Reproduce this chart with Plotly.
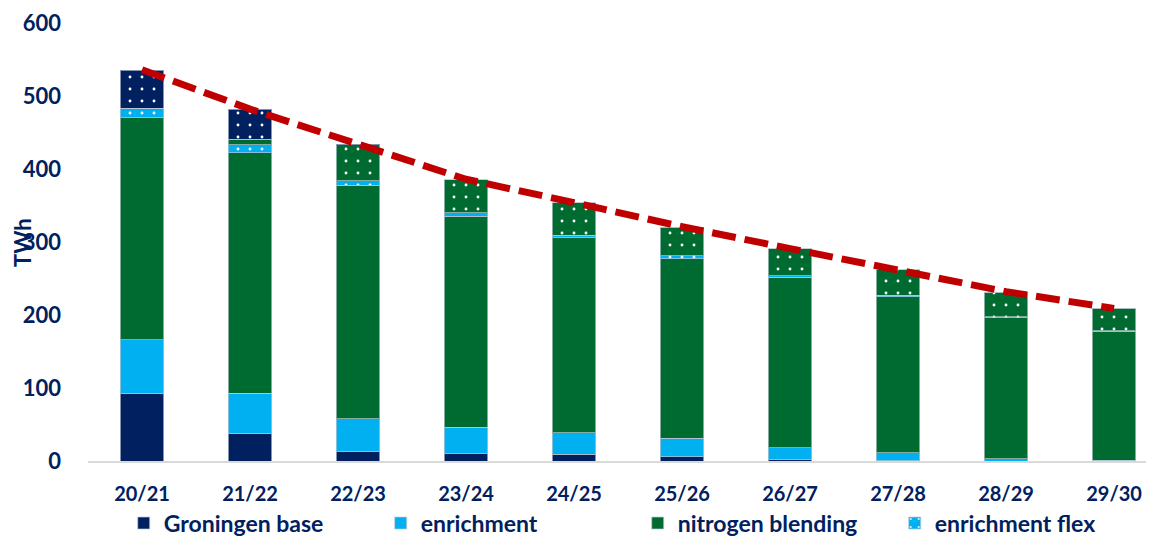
import plotly.graph_objects as go

categories = ["20/21", "21/22", "22/23", "23/24", "24/25", "25/26", "26/27", "27/28", "28/29", "29/30"]
groningen_base = [93, 38, 12.5, 10, 9.5, 6, 1.5, 0.5, 0, 0]
enrichment = [73, 55, 45.5, 36, 29.5, 25, 16.5, 10.5, 3, 1]
nitrogen_blending = [304, 329, 320, 289, 267, 246, 234, 214, 193, 177]
enrichment_flex = [13, 11, 6, 5, 3.5, 4, 2, 2, 1.5, 0.5]
nitrogen_flex = [0, 7.5, 49, 45.6, 44, 39, 37, 35, 33.5, 30.5]
groningen_flex = [52, 41.5, 1, 0, 0, 0, 0, 0, 0, 0]
total_demand = [536, 482, 434, 386, 354, 321, 291, 262, 232, 209]

NAVY = "#002060"
LBLUE = "#00B0F0"
GREEN = "#006B31"
RED = "#C00000"
FONT = "Lato"
edge = dict(color="rgba(190,200,210,0.7)", width=1)


def dots(bg):
    return dict(shape=".", bgcolor=bg, fgcolor="white", size=12, solidity=0.045, fillmode="replace")


fig = go.Figure()
fig.add_bar(x=categories, y=groningen_base, name="Groningen base",
            marker=dict(color=NAVY, line=edge))
fig.add_bar(x=categories, y=enrichment, name="enrichment",
            marker=dict(color=LBLUE, line=edge))
fig.add_bar(x=categories, y=nitrogen_blending, name="nitrogen blending",
            marker=dict(color=GREEN, line=edge))
fig.add_bar(x=categories, y=enrichment_flex, name="enrichment flex",
            marker=dict(color=LBLUE, line=edge, pattern=dots(LBLUE)))
fig.add_bar(x=categories, y=nitrogen_flex, name="nitrogen blending flex", showlegend=False,
            marker=dict(color=GREEN, line=edge, pattern=dots(GREEN)))
fig.add_bar(x=categories, y=groningen_flex, name="Groningen flex", showlegend=False,
            marker=dict(color=NAVY, line=edge, pattern=dots(NAVY)))
fig.add_scatter(x=categories, y=total_demand, mode="lines", showlegend=False,
                line=dict(color=RED, width=7, dash="24px,9px"), name="total")

fig.update_layout(
    barmode="stack",
    bargap=0.6,
    width=1146, height=531,
    margin=dict(l=80, r=0, t=15, b=78, autoexpand=False),
    plot_bgcolor="white", paper_bgcolor="white",
    font=dict(family=FONT, color=NAVY, size=20, weight="bold"),
    xaxis=dict(range=[-0.5, 9.37], automargin=False, showgrid=False, showline=True,
               linecolor="#D9D9D9", linewidth=2, ticks="", ticklabeloverflow="allow",
               tickfont=dict(size=20, color=NAVY, weight="bold"), ticklabelstandoff=14),
    yaxis=dict(range=[0, 600], dtick=100, automargin=False, showgrid=False, zeroline=False,
               showline=False, tickfont=dict(size=22, color=NAVY, weight="bold"),
               ticklabelstandoff=26, ticklabeloverflow="allow"),
    legend=dict(orientation="h", xref="container", x=0.998, xanchor="right",
                yref="container", y=0.03, yanchor="middle",
                entrywidthmode="pixels", entrywidth=212,
                font=dict(size=23, color=NAVY, weight="bold"), traceorder="normal"),
    annotations=[dict(text="TWh", xref="paper", yref="paper", x=-0.062, xanchor="center",
                      y=0.5, yanchor="middle", textangle=-90, showarrow=False,
                      font=dict(size=22, color=NAVY, weight="bold"))],
)

fig.write_html("out.html")
